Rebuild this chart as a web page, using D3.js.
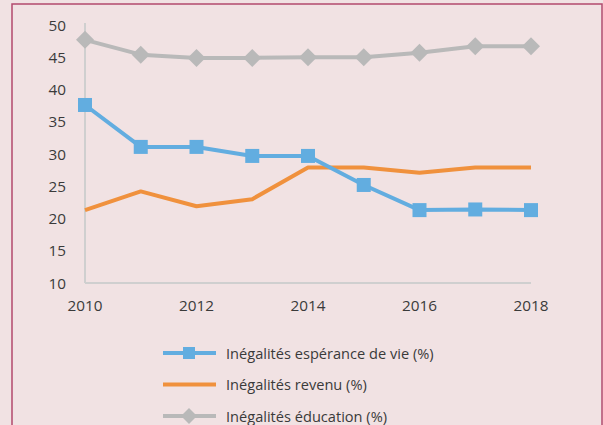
<!DOCTYPE html>
<html>
<head>
<meta charset="utf-8">
<script src="https://cdn.jsdelivr.net/npm/d3@7"></script>
<style>
  body { margin: 0; background: #f1e2e3; }
  svg text { font-family: "Open Sans", sans-serif; fill: #3a3a3a; }
</style>
</head>
<body>
<div id="chart"></div>
<script>
// données
const years = [2010, 2011, 2012, 2013, 2014, 2015, 2016, 2017, 2018];
const esperance = [37.6, 31.1, 31.1, 29.7, 29.7, 25.2, 21.3, 21.4, 21.3];
const revenu = [21.3, 24.2, 21.9, 23.0, 27.9, 27.9, 27.1, 27.9, 27.9];
const education = [47.7, 45.4, 44.9, 44.9, 45.0, 45.0, 45.7, 46.7, 46.7];
const xTicks = [2010, 2012, 2014, 2016, 2018];
const yTicks = [10, 15, 20, 25, 30, 35, 40, 45, 50];
const seriesNames = ["Inégalités espérance de vie (%)", "Inégalités revenu (%)", "Inégalités éducation (%)"];

const W = 603, H = 425;
const FS = 15.3;
const svg = d3.select("#chart").append("svg").attr("width", W).attr("height", H);

// cadre
svg.append("rect")
  .attr("x", 12).attr("y", 4)
  .attr("width", W - 13).attr("height", H + 10)
  .attr("fill", "#f1e2e3")
  .attr("stroke", "#b24a6e").attr("stroke-width", 1.5);

const x = d3.scaleLinear().domain([2010, 2018]).range([85, 531]);
const y = d3.scaleLinear().domain([10, 50]).range([283, 25]);

// axes
svg.append("line")
  .attr("x1", x(2010)).attr("x2", x(2010))
  .attr("y1", y(50) - 2).attr("y2", y(10))
  .attr("stroke", "#cfcfcf").attr("stroke-width", 2);
svg.append("line")
  .attr("x1", x(2010)).attr("x2", x(2018))
  .attr("y1", y(10)).attr("y2", y(10))
  .attr("stroke", "#cfcfcf").attr("stroke-width", 2);

svg.selectAll(".ylab").data(yTicks).enter().append("text")
  .attr("x", 66).attr("y", d => y(d) + 5.5)
  .attr("text-anchor", "end").attr("font-size", FS)
  .text(d => d);

svg.selectAll(".xlab").data(xTicks).enter().append("text")
  .attr("x", d => x(d)).attr("y", 311)
  .attr("text-anchor", "middle").attr("font-size", FS)
  .text(d => d);

const line = d3.line().x((d, i) => x(years[i])).y(d => y(d));

const series = [
  { name: seriesNames[0], values: esperance, color: "#62ade0", marker: "square" },
  { name: seriesNames[1], values: revenu, color: "#f0913d", marker: null },
  { name: seriesNames[2], values: education, color: "#b9b9b9", marker: "diamond" }
];

function drawMarker(g, type, cx, cy, color, size) {
  if (type === "square") {
    g.append("rect")
      .attr("x", cx - size / 2).attr("y", cy - size / 2)
      .attr("width", size).attr("height", size)
      .attr("fill", color);
  } else if (type === "diamond") {
    const s = size / 2 + 2;
    g.append("path")
      .attr("d", `M${cx},${cy - s}L${cx + s},${cy}L${cx},${cy + s}L${cx - s},${cy}Z`)
      .attr("fill", color);
  }
}

// ordre de dessin : revenu, espérance, éducation
[series[1], series[0], series[2]].forEach(s => {
  svg.append("path")
    .datum(s.values)
    .attr("d", line)
    .attr("fill", "none")
    .attr("stroke", s.color)
    .attr("stroke-width", 4)
    .attr("stroke-linejoin", "round");
  if (s.marker) {
    const g = svg.append("g");
    s.values.forEach((v, i) => drawMarker(g, s.marker, x(years[i]), y(v), s.color, 14));
  }
});

// légende
const legend = svg.append("g");
series.forEach((s, i) => {
  const ly = 353 + i * 31.5;
  legend.append("line")
    .attr("x1", 163).attr("x2", 216)
    .attr("y1", ly).attr("y2", ly)
    .attr("stroke", s.color).attr("stroke-width", 4);
  if (s.marker) drawMarker(legend, s.marker, 189, ly, s.color, 12);
  legend.append("text")
    .attr("x", 226).attr("y", ly + 5.5)
    .attr("font-size", 14.6)
    .text(s.name);
});
</script>
</body>
</html>
